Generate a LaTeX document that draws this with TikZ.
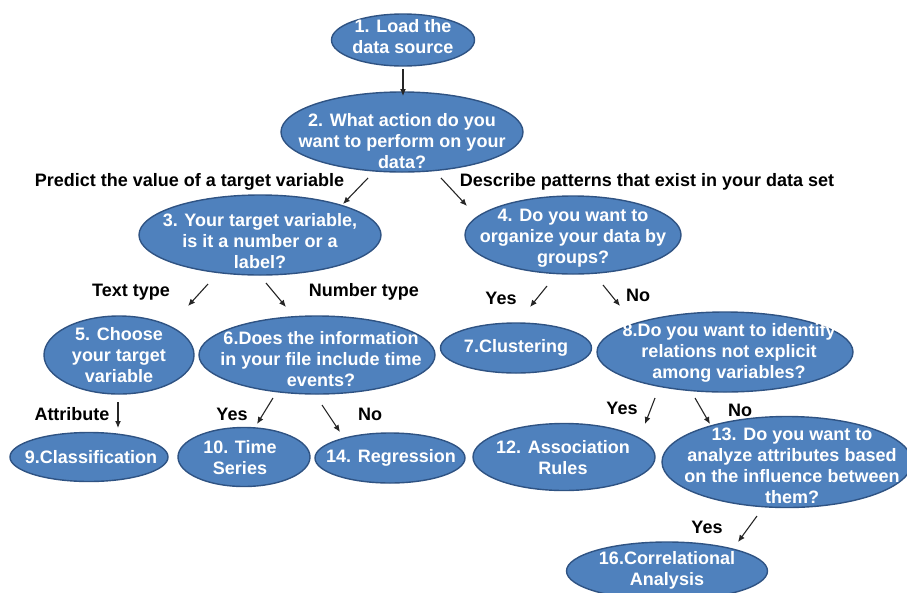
\documentclass[tikz,border=0pt]{standalone}
\usepackage{fontspec}
\setmainfont{Liberation Sans}
\usetikzlibrary{shapes.geometric,arrows.meta}
\definecolor{ellfill}{HTML}{4F81BD}
\definecolor{elldraw}{HTML}{2F5383}
\tikzset{
  ell/.style={ellipse, draw=elldraw, fill=ellfill, line width=1.4pt, inner sep=0pt},
  etext/.style={text=white, font=\fontsize{18}{21}\selectfont\bfseries, align=center, inner sep=0pt},
  lbl/.style={text=black, font=\fontsize{18}{21}\selectfont\bfseries, inner sep=0pt},
  arr/.style={-{Latex[length=7pt,width=6pt]}, line width=1.1pt, draw=black!85}
}
\begin{document}
\begin{tikzpicture}[x=1pt,y=-1pt]
\useasboundingbox (0,0) rectangle (907,592);
\clip (0,0) rectangle (907,592);
% ellipses
\node[ell, minimum width=143, minimum height=52] (e1) at (403,40) {};
\node[etext] (t1) at (403,37) {1. Load the\\data source};
\node[ell, minimum width=242, minimum height=80] (e2) at (402,132) {};
\node[etext] (t2) at (402,141) {2. What action do you\\want to perform on your\\data?};
\node[ell, minimum width=242, minimum height=80] (e3) at (260,235) {};
\node[etext] (t3) at (260,241) {3. Your target variable,\\is it a number or a\\label?};
\node[ell, minimum width=216, minimum height=78] (e4) at (573,235) {};
\node[etext] (t4) at (573,238) {4. Do you want to\\organize your data by\\groups?};
\node[ell, minimum width=150, minimum height=78] (e5) at (119,355) {};
\node[etext] (t5) at (119,355) {5. Choose\\your target\\variable};
\node[ell, minimum width=236, minimum height=78] (e6) at (317,355) {};
\node[etext] (t6) at (321,359) {6.Does the information\\in your file include time\\events?};
\node[ell, minimum width=256, minimum height=80] (e8) at (725,352) {};
\node[etext] (t8) at (729,353) {8.Do you want to identify\\relations not explicit\\among variables?};
\node[ell, minimum width=151, minimum height=50] (e7) at (516,348) {};
\node[etext] (t7) at (516,348) {7.Clustering};
\node[ell, minimum width=158, minimum height=49] (e9) at (89,457) {};
\node[etext] (t9) at (91,457) {9.Classification};
\node[ell, minimum width=132, minimum height=59] (e10) at (244,457) {};
\node[etext] (t10) at (240,458) {10. Time\\Series};
\node[ell, minimum width=150, minimum height=50] (e14) at (390,458) {};
\node[etext] (t14) at (391,458) {14. Regression};
\node[ell, minimum width=182, minimum height=67] (e12) at (564,457) {};
\node[etext] (t12) at (563,458) {12. Association\\Rules};
\node[ell, minimum width=250, minimum height=91] (e13) at (787,462) {};
\node[etext] (t13) at (792,466) {13. Do you want to\\analyze attributes based\\on the influence between\\them?};
\node[ell, minimum width=201, minimum height=58] (e16) at (667,571) {};
\node[etext] (t16) at (667,570) {16.Correlational\\Analysis};
% labels
\node[lbl] (l1) at (189.5,182) {Predict the value of a target variable};
\node[lbl] (l2) at (647,182) {Describe patterns that exist in your data set};
\node[lbl] (l3) at (131,292) {Text type};
\node[lbl] (l4) at (364,292) {Number type};
\node[lbl] (l5) at (501,298) {Yes};
\node[lbl] (l6) at (638,295) {No};
\node[lbl] (l7) at (72,414) {Attribute};
\node[lbl] (l8) at (232,414) {Yes};
\node[lbl] (l9) at (370,414) {No};
\node[lbl] (l10) at (622,408) {Yes};
\node[lbl] (l11) at (740,410) {No};
\node[lbl] (l12) at (707,527) {Yes};
% arrow endpoints
\coordinate (a1s) at (403,69);  \coordinate (a1e) at (403,96);
\coordinate (a2s) at (368,178); \coordinate (a2e) at (343,204);
\coordinate (a3s) at (441,178); \coordinate (a3e) at (467,206);
\coordinate (a4s) at (208,284); \coordinate (a4e) at (188,306);
\coordinate (a5s) at (266,283); \coordinate (a5e) at (286,307);
\coordinate (a6s) at (547,286); \coordinate (a6e) at (530,307);
\coordinate (a7s) at (603,285); \coordinate (a7e) at (620,306);
\coordinate (a8s) at (118,402); \coordinate (a8e) at (118,428);
\coordinate (a9s) at (273,398); \coordinate (a9e) at (257,424);
\coordinate (a10s) at (322,405); \coordinate (a10e) at (340,432);
\coordinate (a11s) at (655,398); \coordinate (a11e) at (645,424);
\coordinate (a12s) at (695,398); \coordinate (a12e) at (710,424);
\coordinate (a13s) at (757,516); \coordinate (a13e) at (738,542);
\foreach \i in {1,...,13} {\draw[arr] (a\i s) -- (a\i e);}
\end{tikzpicture}
\end{document}
